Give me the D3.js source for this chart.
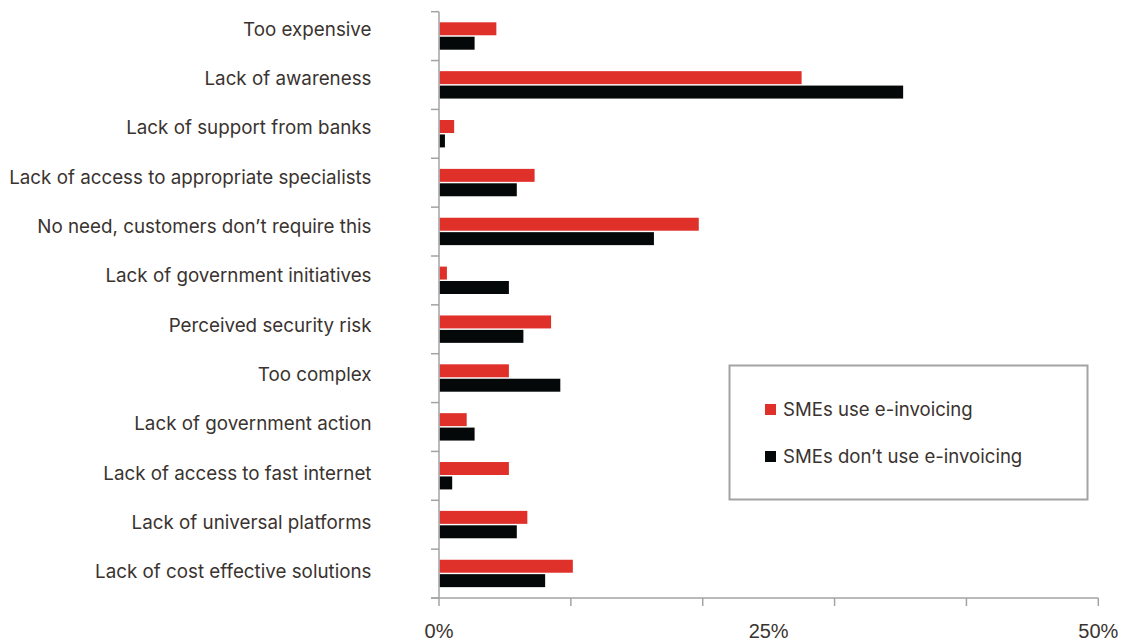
<!DOCTYPE html>
<html>
<head>
<meta charset="utf-8">
<script src="https://cdn.jsdelivr.net/npm/d3@7"></script>
<style>
  html, body { margin: 0; padding: 0; background: #fff; }
  svg { display: block; }
  text { font-family: "Liberation Sans", Arial, sans-serif; fill: #3a332f; }
  text.lab { font-family: Inter, "Liberation Sans", sans-serif; }
</style>
</head>
<body>
<svg id="chart" width="1122" height="641"></svg>
<script>
const categories = [
  "Too expensive",
  "Lack of awareness",
  "Lack of support from banks",
  "Lack of access to appropriate specialists",
  "No need, customers don\u2019t require this",
  "Lack of government initiatives",
  "Perceived security risk",
  "Too complex",
  "Lack of government action",
  "Lack of access to fast internet",
  "Lack of universal platforms",
  "Lack of cost effective solutions"
];
const seriesNames = ["SMEs use e-invoicing", "SMEs don\u2019t use e-invoicing"];
const useValues =    [4.35, 27.5, 1.15, 7.25, 19.7, 0.6, 8.5, 5.3, 2.1, 5.3, 6.7, 10.15];
const dontUseValues = [2.7, 35.2, 0.45, 5.9, 16.3, 5.3, 6.4, 9.2, 2.7, 1.0, 5.9, 8.05];
const seriesColors = ["#e0302a", "#050808"];
const xTicks = [0, 10, 20, 30, 40, 50];
const xTickLabels = [0, 25, 50];

const svg = d3.select("#chart");
const axisColor = "#a3a3a3";

const x = d3.scaleLinear().domain([0, 50]).range([439, 1098.3]);
const y = d3.scaleBand().domain(categories).range([11.7, 598]).padding(0);
const ySub = d3.scaleBand().domain(seriesNames).range([10.6, 38]).paddingInner(0.1);
const yLabel = d3.scalePoint().domain(categories).range([35.7, 578.3]);

const rows = categories.map((c, i) => ({cat: c, vals: [useValues[i], dontUseValues[i]]}));

// bars
const g = svg.append("g");
rows.forEach(r => {
  r.vals.forEach((v, j) => {
    g.append("rect")
      .attr("x", x(0) + 0.5)
      .attr("y", y(r.cat) + ySub(seriesNames[j]))
      .attr("width", Math.max(0, x(v) - x(0) - 0.5))
      .attr("height", ySub.bandwidth())
      .attr("fill", seriesColors[j]);
  });
});

// y axis line and boundary ticks
svg.append("line")
  .attr("x1", x(0)).attr("x2", x(0))
  .attr("y1", y.range()[0]).attr("y2", y.range()[1])
  .attr("stroke", axisColor).attr("stroke-width", 1.5);
const boundaries = categories.map(c => y(c)).concat([y.range()[1]]);
svg.selectAll(".ytick").data(boundaries).enter().append("line")
  .attr("x1", x(0) - 8).attr("x2", x(0))
  .attr("y1", d => d).attr("y2", d => d)
  .attr("stroke", axisColor).attr("stroke-width", 1.5);

// x axis
svg.append("line")
  .attr("x1", x(0) - 8).attr("x2", x(50))
  .attr("y1", y.range()[1]).attr("y2", y.range()[1])
  .attr("stroke", axisColor).attr("stroke-width", 1.5);
svg.selectAll(".xtick").data(xTicks).enter().append("line")
  .attr("x1", d => x(d)).attr("x2", d => x(d))
  .attr("y1", y.range()[1]).attr("y2", y.range()[1] + 8)
  .attr("stroke", axisColor).attr("stroke-width", 1.5);
svg.selectAll(".xlabel").data(xTickLabels).enter().append("text")
  .attr("x", d => x(d))
  .attr("y", 638)
  .attr("text-anchor", "middle")
  .attr("font-size", 20)
  .text(d => d + "%");

// category labels
svg.selectAll(".ylabel").data(categories).enter().append("text")
  .attr("class", "lab")
  .attr("x", 371.5)
  .attr("y", d => yLabel(d))
  .attr("text-anchor", "end")
  .attr("font-size", 18.8)
  .text(d => d);

// legend
const lg = svg.append("g");
lg.append("rect")
  .attr("x", 729.5).attr("y", 365.5)
  .attr("width", 358).attr("height", 134)
  .attr("fill", "#fff").attr("stroke", axisColor).attr("stroke-width", 2);
seriesNames.forEach((s, j) => {
  const by = 416 + j * 47;
  lg.append("rect")
    .attr("x", 765).attr("y", by - 12)
    .attr("width", 11).attr("height", 11)
    .attr("fill", seriesColors[j]);
  lg.append("text")
    .attr("class", "lab")
    .attr("x", 783).attr("y", by)
    .attr("font-size", 18.6)
    .text(s);
});
</script>
</body>
</html>
